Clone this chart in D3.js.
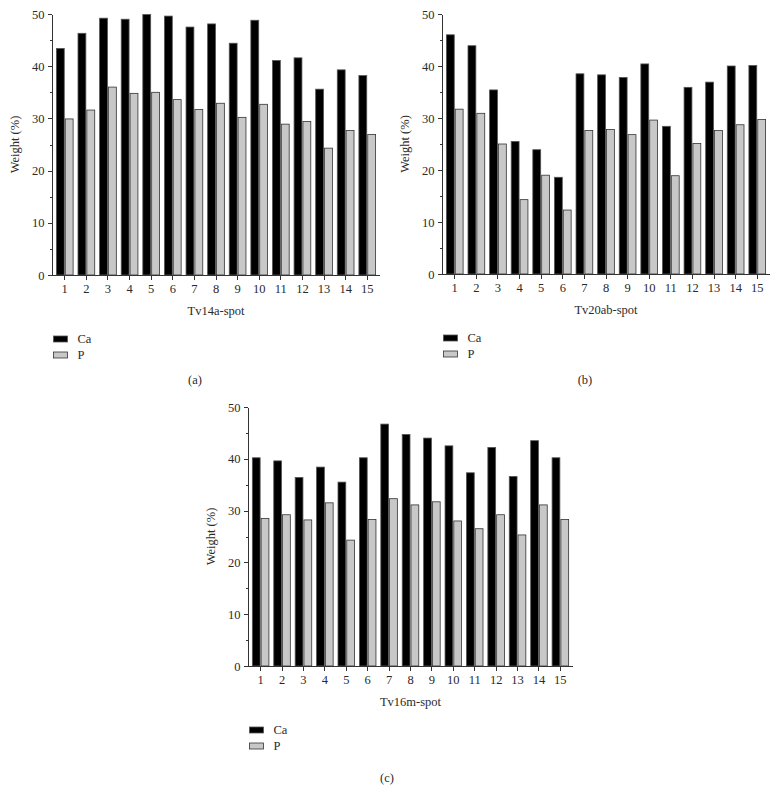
<!DOCTYPE html>
<html>
<head>
<meta charset="utf-8">
<script src="https://cdn.jsdelivr.net/npm/d3@7"></script>
<style>
  body { margin: 0; background: #fff; }
  svg text { font-family: "Liberation Serif", "DejaVu Serif", serif; fill: #2a2a2a; }
  .axis path, .axis line { stroke: #333; shape-rendering: crispEdges; }
</style>
</head>
<body>
<svg id="chart" width="777" height="785"></svg>
<script>
// spots on the x axis
const spots = d3.range(1, 16);
// series names
const seriesNames = ["Ca", "P"];
// y tick labels
const yTicks = [0, 10, 20, 30, 40, 50];

// Tv14a-spot
const caA = [43.4, 46.3, 49.2, 49.0, 49.9, 49.6, 47.5, 48.1, 44.4, 48.8, 41.1, 41.6, 35.6, 39.3, 38.2];
const pA  = [29.9, 31.6, 36.0, 34.8, 35.0, 33.6, 31.7, 32.9, 30.2, 32.7, 28.9, 29.4, 24.3, 27.7, 26.9];
// Tv20ab-spot
const caB = [46.0, 43.9, 35.4, 25.5, 23.9, 18.6, 38.5, 38.3, 37.8, 40.4, 28.4, 35.9, 36.9, 40.0, 40.1];
const pB  = [31.7, 30.9, 25.0, 14.3, 19.0, 12.3, 27.6, 27.8, 26.8, 29.6, 18.9, 25.1, 27.6, 28.7, 29.7];
// Tv16m-spot
const caC = [40.2, 39.6, 36.4, 38.4, 35.5, 40.2, 46.7, 44.7, 44.0, 42.5, 37.3, 42.2, 36.6, 43.5, 40.2];
const pC  = [28.5, 29.2, 28.2, 31.5, 24.3, 28.3, 32.3, 31.1, 31.7, 28.0, 26.5, 29.2, 25.3, 31.1, 28.3];

const fills = ["#000000", "#c8c8c8"];
const strokes = ["#555", "#333"];
const fs = "12.5px";

const svg = d3.select("#chart");

/* draws one panel: the plot box goes from (x0,y0) top-left to (x1,y1) bottom-right */
function drawPanel(opt) {
  const g = svg.append("g");

  const x = d3.scaleBand()
    .domain(spots)
    .range([opt.x0, opt.x1])
    .paddingInner(0.18)
    .paddingOuter(0.18);
  const xs = d3.scaleBand()
    .domain(seriesNames)
    .range([0, x.bandwidth()]);
  const y = d3.scaleLinear()
    .domain([0, 50])
    .range([opt.y1, opt.y0]);

  // bars
  const rows = spots.map((s, i) => ({ spot: s, vals: [opt.ca[i], opt.p[i]] }));
  const grp = g.selectAll("g.spot")
    .data(rows)
    .enter()
    .append("g")
    .attr("class", "spot")
    .attr("transform", d => "translate(" + x(d.spot) + ",0)");
  grp.selectAll("rect")
    .data(d => d.vals.map((v, k) => ({ k: k, v: v })))
    .enter()
    .append("rect")
    .attr("x", d => xs(seriesNames[d.k]) + 0.5)
    .attr("y", d => y(d.v))
    .attr("width", xs.bandwidth() - 1)
    .attr("height", d => y(0) - y(d.v))
    .attr("fill", d => fills[d.k])
    .attr("stroke", d => strokes[d.k])
    .attr("stroke-width", 0.8);

  // y axis, major and minor ticks
  g.append("g")
    .attr("class", "axis")
    .attr("transform", "translate(" + opt.x0 + ",0)")
    .call(d3.axisLeft(y).tickValues(d3.range(5, 50, 10)).tickSize(2.5).tickFormat("").tickSizeOuter(0))
    .call(a => a.select(".domain").remove());
  g.append("g")
    .attr("class", "axis")
    .attr("transform", "translate(" + opt.x0 + ",0)")
    .call(d3.axisLeft(y).tickValues(yTicks).tickSize(4.5).tickPadding(3).tickSizeOuter(0))
    .call(a => a.selectAll("text").attr("font-size", fs));

  // x axis
  const xa = g.append("g")
    .attr("class", "axis")
    .attr("transform", "translate(0," + opt.y1 + ")")
    .call(d3.axisBottom(x).tickSize(4.5).tickPadding(5).tickSizeOuter(0));
  xa.select(".domain").attr("d", "M" + (opt.x0 - 2) + ",0H" + opt.x1);
  xa.selectAll("text").attr("font-size", fs);

  // axis titles
  g.append("text")
    .attr("transform", "translate(" + (opt.x0 - 33) + "," + ((opt.y0 + opt.y1) / 2) + ") rotate(-90)")
    .attr("text-anchor", "middle")
    .attr("font-size", fs)
    .text("Weight (%)");
  g.append("text")
    .attr("x", (opt.x0 + opt.x1) / 2)
    .attr("y", opt.y1 + 40)
    .attr("text-anchor", "middle")
    .attr("font-size", fs)
    .text(opt.title);

  // legend
  const lg = g.selectAll("g.leg")
    .data(seriesNames)
    .enter()
    .append("g")
    .attr("class", "leg")
    .attr("transform", (d, i) => "translate(" + (opt.x0 + 1.5) + "," + (opt.y1 + 64 + i * 16) + ")");
  lg.append("rect")
    .attr("x", 0).attr("y", -3)
    .attr("width", 14).attr("height", 6)
    .attr("fill", (d, i) => fills[i])
    .attr("stroke", (d, i) => strokes[i])
    .attr("stroke-width", 0.8);
  lg.append("text")
    .attr("x", 24)
    .attr("y", 4)
    .attr("font-size", fs)
    .text(d => d);

  // panel letter
  g.append("text")
    .attr("x", opt.lx)
    .attr("y", opt.ly)
    .attr("text-anchor", "middle")
    .attr("font-size", fs)
    .text(opt.letter);
}

drawPanel({ x0: 52, x1: 380, y0: 14, y1: 275, ca: caA, p: pA, title: "Tv14a-spot", letter: "(a)", lx: 195, ly: 384 });
drawPanel({ x0: 442, x1: 770, y0: 14, y1: 274, ca: caB, p: pB, title: "Tv20ab-spot", letter: "(b)", lx: 585, ly: 384 });
drawPanel({ x0: 248, x1: 573, y0: 407, y1: 666, ca: caC, p: pC, title: "Tv16m-spot", letter: "(c)", lx: 387, ly: 782 });
</script>
</body>
</html>
